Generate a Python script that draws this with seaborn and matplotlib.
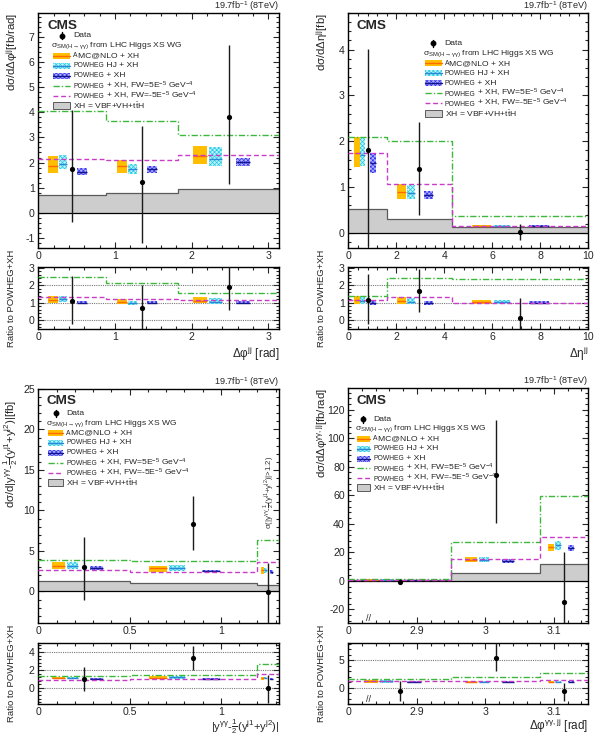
import numpy as np
import matplotlib
matplotlib.use("Agg")
import matplotlib.pyplot as plt
import seaborn as sns
from matplotlib.patches import Rectangle
from matplotlib.ticker import AutoMinorLocator, MultipleLocator, FuncFormatter
from matplotlib.transforms import blended_transform_factory
from matplotlib.offsetbox import TextArea, HPacker, AnnotationBbox

# ---------------- data ----------------
# Panel 1: delta phi jj
p1_edges = [0.0, 0.885, 1.82, 3.1416]
p1_data = [1.76, 1.24, 3.80]
p1_up = [2.33, 2.23, 2.87]
p1_dn = [2.13, 2.44, 2.64]
p1_amc = [1.87, 1.85, 2.27]
p1_amc_lo = [1.57, 1.60, 1.95]
p1_amc_hi = [2.25, 2.10, 2.65]
p1_hj = [1.95, 1.75, 2.15]
p1_hj_lo = [1.75, 1.55, 1.85]
p1_hj_hi = [2.30, 1.95, 2.60]
p1_pw = [1.63, 1.73, 2.02]
p1_pw_lo = [1.50, 1.60, 1.85]
p1_pw_hi = [1.80, 1.88, 2.20]
p1_fwp = [4.05, 3.65, 3.10]
p1_fwm = [2.13, 2.09, 2.30]
p1_xh = [0.70, 0.77, 0.93]

# Panel 2: delta eta jj
p2_edges = [0.0, 1.62, 4.3, 10.0]
p2_data = [1.81, 1.39, 0.02]
p2_up = [2.20, 1.03, 0.18]
p2_dn = [2.10, 1.01, 0.17]
p2_amc = [1.75, 0.90, 0.16]
p2_amc_lo = [1.43, 0.75, 0.14]
p2_amc_hi = [2.10, 1.07, 0.18]
p2_hj = [1.70, 0.88, 0.16]
p2_hj_lo = [1.45, 0.75, 0.14]
p2_hj_hi = [2.10, 1.05, 0.18]
p2_pw = [1.53, 0.82, 0.155]
p2_pw_lo = [1.30, 0.73, 0.14]
p2_pw_hi = [1.75, 0.92, 0.17]
p2_fwp = [2.10, 2.00, 0.365]
p2_fwm = [1.75, 1.07, 0.15]
p2_xh = [0.53, 0.31, 0.12]

# Panel 3: |y_gg - (y_j1+y_j2)/2|
p3_edges = [0.0, 0.5, 1.2, 1.32]
p3_data = [3.07, 8.28, -0.12]
p3_up = [3.63, 3.48, 3.69]
p3_dn = [4.07, 3.20, 4.00]
p3_amc = [3.20, 2.85, 2.60]
p3_amc_lo = [2.75, 2.40, 2.20]
p3_amc_hi = [3.60, 3.20, 3.00]
p3_hj = [3.15, 2.90, 2.60]
p3_hj_lo = [2.80, 2.50, 2.25]
p3_hj_hi = [3.60, 3.30, 2.95]
p3_pw = [2.95, 2.50, 2.40]
p3_pw_lo = [2.70, 2.35, 2.20]
p3_pw_hi = [3.20, 2.65, 2.60]
p3_fwp = [3.85, 3.70, 6.40]
p3_fwm = [2.70, 2.40, 3.60]
p3_xh = [1.30, 1.10, 0.85]

# Panel 4: delta phi (gg, jj)  (first bin is 0-2.95, drawn on a broken axis)
p4_edges = [2.8, 2.95, 3.08, 3.15]
p4_data = [-0.45, 74.2, -15.0]
p4_up = [1.45, 38.4, 35.0]
p4_dn = [1.55, 33.5, 40.0]
p4_amc = [0.9, 15.0, 23.5]
p4_amc_lo = [0.7, 13.0, 21.0]
p4_amc_hi = [1.1, 17.0, 26.0]
p4_hj = [0.9, 15.0, 25.0]
p4_hj_lo = [0.7, 13.0, 22.0]
p4_hj_hi = [1.1, 17.0, 28.0]
p4_pw = [0.8, 13.8, 23.0]
p4_pw_lo = [0.7, 12.5, 21.0]
p4_pw_hi = [0.9, 15.2, 25.5]
p4_fwp = [1.2, 27.2, 59.5]
p4_fwm = [0.95, 15.7, 30.5]
p4_xh = [0.3, 5.5, 12.0]

# ---------------- style ----------------
sns.set_style("ticks")
plt.rcParams['font.family'] = ['Liberation Sans', 'DejaVu Sans']
plt.rcParams['mathtext.fontset'] = 'custom'
plt.rcParams['mathtext.rm'] = 'Liberation Sans'
plt.rcParams['mathtext.it'] = 'Liberation Sans:italic'
plt.rcParams['mathtext.bf'] = 'Liberation Sans:bold'
plt.rcParams['mathtext.default'] = 'regular'
plt.rcParams['axes.unicode_minus'] = False
plt.rcParams['hatch.linewidth'] = 0.5

ORANGE, ORANGE_LINE = '#ffbf00', '#ff6a00'
CYAN_FACE, CYAN_HATCH, CYAN_LINE = '#bff2fa', '#22cbe3', '#2a86d8'
BLUE_FACE, BLUE_HATCH, BLUE_LINE = '#b4b4ff', '#3232ee', '#14148c'
GREEN = '#3cb83c'
MAGENTA = '#c83cc8'
GRAY_FILL, GRAY_EDGE = '#cdcdcd', '#5a5a5a'
DASHDOT = (0, (4.5, 1.5, 1.0, 1.5))
DASHED = (0, (3.5, 2.0))

FW, FH = 600, 735
fig = plt.figure(figsize=(6, 7.35), dpi=100)


def px_axes(l, t, w, h):
    return fig.add_axes([l / FW, 1 - (t + h) / FH, w / FW, h / FH])


fmt_g = FuncFormatter(lambda v, p: '%g' % v)

BOXES = [('amc', (0.15, 0.29)), ('hj', (0.31, 0.43)), ('pw', (0.57, 0.71))]


def box_style(key):
    if key == 'amc':
        return dict(facecolor=ORANGE, edgecolor='none', lw=0), ORANGE_LINE
    if key == 'hj':
        return dict(facecolor=CYAN_FACE, edgecolor=CYAN_HATCH, hatch='xxxxxxxx', lw=0), CYAN_LINE
    return dict(facecolor=BLUE_FACE, edgecolor=BLUE_HATCH, hatch='xxxxxxxx', lw=0), BLUE_LINE


def style_axes(ax, xmaj, ymaj):
    ax.tick_params(which='both', direction='in', top=True, right=True,
                   labelsize=7.6, width=0.8, pad=2.5)
    ax.tick_params(which='major', length=4.5)
    ax.tick_params(which='minor', length=2.3)
    for s in ax.spines.values():
        s.set_linewidth(1.0)
        s.set_color('black')
    if xmaj is not None:
        ax.xaxis.set_major_locator(MultipleLocator(xmaj))
        ax.xaxis.set_minor_locator(AutoMinorLocator(5))
    ax.yaxis.set_major_locator(MultipleLocator(ymaj))
    ax.yaxis.set_minor_locator(AutoMinorLocator(5))
    ax.xaxis.set_major_formatter(fmt_g)
    ax.yaxis.set_major_formatter(fmt_g)


def draw_hist(ax, P, ratio=False):
    e = np.array(P['edges'])
    lo, hi = e[:-1], e[1:]
    w = hi - lo
    ctr = (lo + hi) / 2
    norm = np.array(P['pw']) if ratio else np.ones(len(lo))
    if not ratio:
        ax.stairs(P['xh'], e, baseline=0, fill=True, facecolor=GRAY_FILL,
                  edgecolor='none', zorder=1)
        ax.stairs(P['xh'], e, baseline=None, color=GRAY_EDGE, lw=0.9, zorder=1.1)
        ax.axhline(0, color='black', lw=0.9, zorder=1.2)
    for key, (f0, f1) in BOXES:
        st, lc = box_style(key)
        c = np.array(P[key]) / norm
        blo = np.array(P[key + '_lo']) / norm
        bhi = np.array(P[key + '_hi']) / norm
        for i in range(len(lo)):
            x0 = lo[i] + f0 * w[i]
            bw = (f1 - f0) * w[i]
            ax.add_patch(Rectangle((x0, blo[i]), bw, bhi[i] - blo[i], zorder=2, **st))
            ax.hlines(c[i], x0, x0 + bw, color=lc, lw=1.0, zorder=2.1)
    ax.stairs(np.array(P['fwp']) / norm, e, baseline=None, color=GREEN,
              lw=1.0, linestyle=DASHDOT, zorder=3)
    ax.stairs(np.array(P['fwm']) / norm, e, baseline=None, color=MAGENTA,
              lw=1.0, linestyle=DASHED, zorder=3)
    d = np.array(P['data']) / norm
    up = np.array(P['up']) / norm
    dn = np.array(P['dn']) / norm
    ax.errorbar(ctr, d, yerr=[dn, up], fmt='none', ecolor='#1a1a1a',
                elinewidth=1.0, capsize=0, zorder=5)
    sns.scatterplot(x=ctr, y=d, ax=ax, color='black', s=14, linewidth=0,
                    zorder=6, legend=False)


FS, FSC = 6.1, 4.9   # normal legend text, small-caps text


def rich_text(ax, x, y, segs):
    kids = [TextArea(s, textprops=dict(fontsize=sz)) for s, sz in segs]
    pk = HPacker(children=kids, align='baseline', pad=0, sep=0)
    ab = AnnotationBbox(pk, (x, y), xycoords=ax.transAxes, box_alignment=(0, 0.5),
                        frameon=False, pad=0, annotation_clip=False, zorder=8)
    ax.add_artist(ab)


def legend(ax, wpx, hpx, x0, y0, hw, dy=10.0):
    T = ax.transAxes
    fx = lambda p: p / wpx
    fy = lambda p: 1 - p / hpx
    tx = x0 + hw + 3
    labels = [
        [('Data', FS)],
        [(r'$\sigma_{SM(H\rightarrow\gamma\gamma)}$ from LHC Higgs XS WG', FS)],
        [('A', FSC), ('MC@NLO + XH', FS)],
        [('POWHEG', FSC), (' HJ + XH', FS)],
        [('POWHEG', FSC), (' + XH', FS)],
        [('POWHEG', FSC), (r' + XH, FW=5E$^{-5}$ GeV$^{-4}$', FS)],
        [('POWHEG', FSC), (r' + XH, FW=-5E$^{-5}$ GeV$^{-4}$', FS)],
        [(r'XH = VBF+VH+t$\bar{t}$H', FS)],
    ]
    for i, segs in enumerate(labels):
        yc = y0 + i * dy
        xm = x0 + hw / 2
        if i == 0:
            ax.plot([fx(xm)] * 2, [fy(yc - 3.5), fy(yc + 3.5)], color='black',
                    lw=1.0, transform=T, clip_on=False, zorder=7)
            ax.plot([fx(xm)], [fy(yc)], 'o', color='black', ms=3.2,
                    transform=T, clip_on=False, zorder=7)
        elif i in (2, 3, 4):
            key = ['amc', 'hj', 'pw'][i - 2]
            st, lc = box_style(key)
            ax.add_patch(Rectangle((fx(x0), fy(yc + 3)), fx(hw), 6 / hpx,
                                   transform=T, clip_on=False, zorder=7, **st))
            ax.plot([fx(x0), fx(x0 + hw)], [fy(yc)] * 2, color=lc, lw=1.0,
                    transform=T, clip_on=False, zorder=7)
        elif i == 5:
            ax.plot([fx(x0), fx(x0 + hw)], [fy(yc)] * 2, color=GREEN, lw=1.0,
                    ls=DASHDOT, transform=T, zorder=7)
        elif i == 6:
            ax.plot([fx(x0), fx(x0 + hw)], [fy(yc)] * 2, color=MAGENTA, lw=1.0,
                    ls=DASHED, transform=T, zorder=7)
        elif i == 7:
            ax.add_patch(Rectangle((fx(x0), fy(yc + 3.5)), fx(hw), 7 / hpx,
                                   facecolor=GRAY_FILL, edgecolor=GRAY_EDGE, lw=0.7,
                                   transform=T, zorder=7))
        xt = x0 - 2 if i == 1 else tx
        rich_text(ax, fx(xt), fy(yc), segs)


def panel(P, main_box, ratio_box, cfg):
    l, t, w, h = main_box
    ax = px_axes(l, t, w, h)
    rl, rt, rw, rh = ratio_box
    axr = px_axes(rl, rt, rw, rh)
    draw_hist(ax, P)
    draw_hist(axr, P, ratio=True)
    for a in (ax, axr):
        a.set_xlim(P['edges'][0], P['edges'][-1])
    ax.set_ylim(*cfg['ylim'])
    axr.set_ylim(*cfg['rylim'])
    style_axes(ax, cfg['xmaj'], cfg['ymaj'])
    style_axes(axr, cfg['xmaj'], cfg['rymaj'])
    for g in cfg['rgrid']:
        axr.axhline(g, color='#7a7a7a', lw=0.8, ls=(0, (1, 1)), zorder=0.5)
    # labels
    ax.set_ylabel(cfg['ylabel'], fontsize=8.2, loc='top')
    ax.yaxis.set_label_coords(-18 / w, cfg.get('ylab_top', 1.0))
    axr.set_ylabel('Ratio to POWHEG+XH', fontsize=6.8)
    axr.yaxis.set_label_coords(-22 / w, 0.5)
    axr.set_xlabel(cfg['xlabel'], fontsize=cfg.get('xlab_fs', 8.5), loc='right')
    axr.xaxis.set_label_coords(1.0, cfg['xlab_y'])
    ax.text(1.0, 1.0 + 4 / h, r'19.7fb$^{-1}$ (8TeV)', transform=ax.transAxes,
            ha='right', va='baseline', fontsize=6.6)
    ax.text(cfg['cms'][0] / w, 1 - cfg['cms'][1] / h, 'CMS', transform=ax.transAxes,
            ha='left', va='center', fontsize=9.7, fontweight='bold')
    lx, ly, lhw, ldy = cfg['leg']
    legend(ax, w, h, lx, ly, lhw, dy=ldy)
    return ax, axr


def mk(prefix):
    g = globals()
    keys = ['edges', 'data', 'up', 'dn', 'amc', 'amc_lo', 'amc_hi', 'hj', 'hj_lo',
            'hj_hi', 'pw', 'pw_lo', 'pw_hi', 'fwp', 'fwm', 'xh']
    return {k: g[prefix + '_' + k] for k in keys}


ax1, ax1r = panel(mk('p1'), (38.3, 13, 241, 235), (38.3, 267, 241, 62), dict(
    ylim=(-1.4, 7.95), rylim=(-0.5, 3.05), xmaj=1, ymaj=1, rymaj=1, rgrid=[0, 1, 2],
    ylabel=r'dσ/dΔφ$^{jj}$[fb/rad]', xlabel=r'Δφ$^{jj}$ [rad]', xlab_y=-0.26,
    cms=(9.4, 12.7), leg=(14.7, 22.7, 17, 10.0)))

ax2, ax2r = panel(mk('p2'), (348.3, 13, 240, 235), (348.3, 267, 240, 62), dict(
    ylim=(-0.33, 4.8), rylim=(-0.5, 3.05), xmaj=2, ymaj=1, rymaj=1, rgrid=[0, 1, 2],
    ylabel=r'dσ/dΔη$^{jj}$[fb]', xlabel=r'Δη$^{jj}$', xlab_y=-0.26,
    cms=(8.4, 12.7), leg=(76.7, 30.3, 16.7, 10.0)))

ax3, ax3r = panel(mk('p3'), (38.3, 389, 241, 234), (38.3, 643, 241, 61), dict(
    ylim=(-3.9, 25), rylim=(-1.8, 5.0), xmaj=0.5, ymaj=5, rymaj=2, rgrid=[0, 2, 4],
    ylabel=r'dσ/d|y$^{γγ}$-$\frac{1}{2}$(y$^{j1}$+y$^{j2}$)|[fb]', ylab_top=0.955,
    xlabel=r'|y$^{γγ}$-$\frac{1}{2}$(y$^{j1}$+y$^{j2}$)|', xlab_y=-0.225, xlab_fs=8.1,
    cms=(8.4, 12.0), leg=(10.0, 24.3, 15, 9.9)))
ax3.text(0.962, 0.56, r'σ(|y$^{γγ}$-$\frac{1}{2}$(y$^{j1}$+y$^{j2}$)|>1.2)',
         transform=ax3.transAxes, rotation=90, ha='center', va='center',
         fontsize=5.6, color='#333333')

ax4, ax4r = panel(mk('p4'), (348.3, 388.3, 240, 234.7), (348.3, 643, 240, 61), dict(
    ylim=(-29.5, 135), rylim=(-3.0, 8.1), xmaj=None, ymaj=20, rymaj=5, rgrid=[0, 5],
    ylabel=r'dσ/dΔφ$^{γγ,jj}$[fb/rad]', xlabel=r'Δφ$^{γγ,jj}$ [rad]', xlab_y=-0.21,
    cms=(8.4, 12.7), leg=(8.4, 31.0, 13.3, 9.8)))
for a in (ax4, ax4r):
    a.set_xticks([2.8, 2.9, 3.0, 3.1])
    a.set_xticklabels(['0', '2.9', '3', '3.1'])
    a.xaxis.set_minor_locator(MultipleLocator(0.02))
    tr = blended_transform_factory(a.transData, a.transAxes)
    a.text(2.829, 0.0, '//', transform=tr, ha='center', va='bottom',
           fontsize=6.5, clip_on=False, zorder=9)

fig.savefig('out.png', dpi=100)
